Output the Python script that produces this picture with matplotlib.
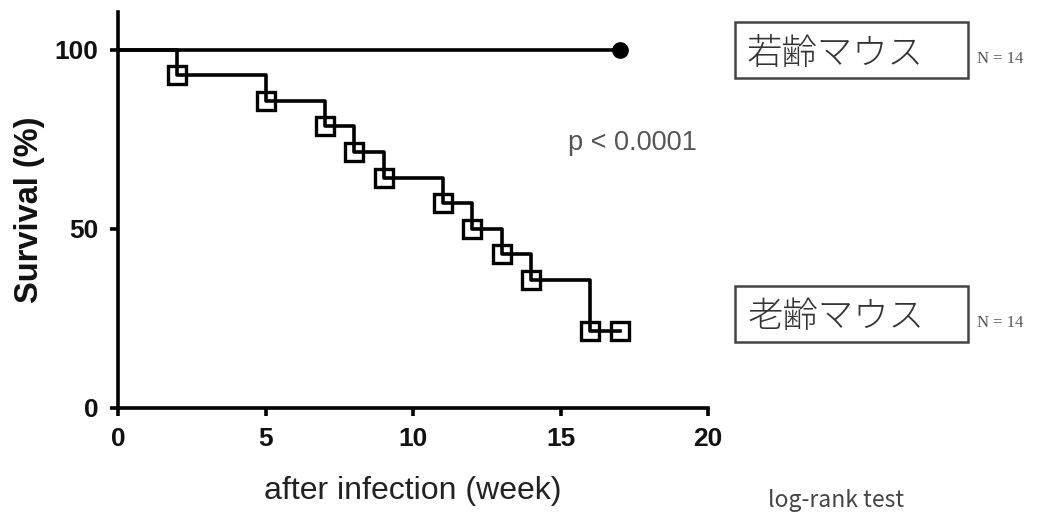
import matplotlib
matplotlib.use("Agg")
import matplotlib.pyplot as plt
from matplotlib.patches import Rectangle

# Kaplan-Meier data (week, survival %)
young_weeks = [0, 17]
young_surv = [100, 100]

old_weeks = [0, 2, 5, 7, 8, 9, 11, 12, 13, 14, 16, 17]
old_surv = [100, 92.86, 85.71, 78.57, 71.43, 64.29, 57.14, 50.0, 42.86, 35.71, 21.43, 21.43]

x_ticks = [0, 5, 10, 15, 20]
y_ticks = [0, 50, 100]

plt.rcParams["font.family"] = ["Liberation Sans", "DejaVu Sans"]

fig = plt.figure(figsize=(10.39, 5.19), dpi=100)
ax = fig.add_axes([0.1136, 0.2139, 0.5679, 0.763])

lw = 2.6
ax.step(young_weeks, young_surv, where="post", color="black", lw=lw)
ax.plot(young_weeks[-1], young_surv[-1], "o", color="black", ms=11)

ax.step(old_weeks, old_surv, where="post", color="black", lw=lw)
ax.plot(old_weeks[1:], old_surv[1:], "s", mfc="none", mec="black", ms=12.5, mew=2.4)

ax.set_xlim(0, 20)
ax.set_ylim(0, 110.5)
ax.set_xticks(x_ticks)
ax.set_yticks(y_ticks)
for s in ["top", "right"]:
    ax.spines[s].set_visible(False)
for s in ["left", "bottom"]:
    ax.spines[s].set_linewidth(2.6)
ax.tick_params(width=2.6, length=6, labelsize=19, direction="out", pad=8)
for lab in ax.get_xticklabels() + ax.get_yticklabels():
    lab.set_fontweight("bold")
    lab.set_color("#111111")

ax.set_xlabel("after infection (week)", fontsize=23, color="#222222")
ax.xaxis.set_label_coords(0.5, -0.172)
ax.set_ylabel("Survival (%)", fontsize=23.5, fontweight="bold", color="#111111")
ax.yaxis.set_label_coords(-0.124, 0.5)

ax.text(0.871, 0.669, "p < 0.0001", transform=ax.transAxes, fontsize=19.5,
        color="#555555", ha="center", va="center")

jp = ["Noto Sans CJK JP", "DejaVu Sans"]
# label boxes (figure coords)
fig.patches.append(Rectangle((0.7074, 0.8497), 0.2243, 0.1079, transform=fig.transFigure,
                             fill=False, ec="#444444", lw=1.8))
fig.patches.append(Rectangle((0.7074, 0.3410), 0.2243, 0.1079, transform=fig.transFigure,
                             fill=False, ec="#444444", lw=1.8))
fig.text(0.719, 0.897, "若齢マウス", fontsize=25.5, family=jp, color="#333333",
         va="center", ha="left", fontweight="light")
fig.text(0.719, 0.390, "老齢マウス", fontsize=25.5, family=jp, color="#333333",
         va="center", ha="left", fontweight="light")
fig.text(0.940, 0.887, "N = 14", fontsize=12, color="#555555", va="center",
         family=["Liberation Serif"])
fig.text(0.940, 0.378, "N = 14", fontsize=12, color="#555555", va="center",
         family=["Liberation Serif"])
fig.text(0.805, 0.035, "log-rank test", fontsize=16.5, color="#444444",
         ha="center", va="center", family=jp)

fig.savefig("out.png", dpi=100)
